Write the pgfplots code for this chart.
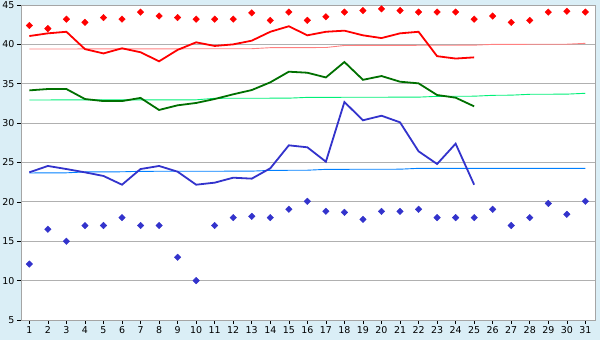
\documentclass[border=0pt]{standalone}
\usepackage{pgfplots}
\pgfplotsset{compat=1.18}
\usepackage{fontspec}
\setmainfont{DejaVu Sans}
\definecolor{bgblue}{RGB}{218,238,246}
\definecolor{gridgray}{RGB}{176,176,176}
\definecolor{framegray}{RGB}{165,165,165}
\definecolor{redline}{RGB}{255,0,0}
\definecolor{salmon}{RGB}{255,128,128}
\definecolor{dgreen}{RGB}{0,112,0}
\definecolor{lgreen}{RGB}{0,240,120}
\definecolor{blueline}{RGB}{51,51,204}
\definecolor{lblue}{RGB}{0,128,255}
\begin{document}
\begin{tikzpicture}
\fill[bgblue] (0,0) rectangle (600bp,340bp);
\useasboundingbox (0,0) rectangle (600bp,340bp);
\begin{axis}[
  at={(21bp,20bp)}, anchor=south west,
  scale only axis, width=574bp, height=315bp,
  xmin=0.55, xmax=31.52, ymin=5, ymax=45,
  xtick={1,...,31}, ytick={5,10,...,45},
  axis background/.style={fill=white},
  axis line style={framegray},
  ymajorgrids, grid style={gridgray, line width=0.8bp},
  tick align=outside, major tick length=4bp,
  tick style={black, line width=0.6bp},
  xtick pos=bottom, ytick pos=left,
  tick label style={font=\fontsize{9.5}{11}\selectfont},
  /pgf/number format/assume math mode=true,
  xticklabel style={yshift=1bp},
  yticklabel style={xshift=1bp},
  clip=false,
]
% normals
\addplot[salmon, line width=0.9bp] coordinates {(1,39.41)(13,39.45)(14,39.58)(17,39.6)(18,39.86)(25,39.9)(26,40.0)(30,40.02)(31,40.13)};
\addplot[lgreen, line width=0.9bp] coordinates {(1,32.94)(10,32.96)(11,33.15)(15,33.17)(16,33.27)(22,33.3)(23,33.4)(25,33.42)(26,33.53)(27,33.55)(28,33.66)(30,33.68)(31,33.79)};
\addplot[lblue, line width=0.9bp] coordinates {(1,23.67)(3,23.69)(4,23.8)(6,23.82)(7,23.88)(13,23.9)(14,24.0)(16,24.02)(17,24.13)(21,24.15)(22,24.26)(31,24.26)};
% red max
\addplot[redline, line width=1.8bp] coordinates {
(1,41.06)(2,41.4)(3,41.6)(4,39.4)(5,38.85)(6,39.5)(7,39.0)(8,37.85)(9,39.3)(10,40.26)
(11,39.8)(12,40.0)(13,40.47)(14,41.6)(15,42.3)(16,41.15)(17,41.6)(18,41.74)(19,41.15)(20,40.8)
(21,41.4)(22,41.6)(23,38.5)(24,38.2)(25,38.35)};
% green
\addplot[dgreen, line width=1.8bp] coordinates {
(1,34.16)(2,34.33)(3,34.33)(4,33.06)(5,32.8)(6,32.8)(7,33.2)(8,31.67)(9,32.26)(10,32.56)
(11,33.06)(12,33.66)(13,34.2)(14,35.18)(15,36.53)(16,36.4)(17,35.8)(18,37.76)(19,35.5)(20,35.98)
(21,35.26)(22,35.05)(23,33.57)(24,33.23)(25,32.13)};
% blue
\addplot[blueline, line width=1.8bp] coordinates {
(1,23.75)(2,24.56)(3,24.17)(4,23.75)(5,23.29)(6,22.18)(7,24.17)(8,24.56)(9,23.83)(10,22.18)
(11,22.44)(12,23.07)(13,22.95)(14,24.26)(15,27.18)(16,26.93)(17,25.1)(18,32.68)(19,30.36)(20,30.94)
(21,30.1)(22,26.42)(23,24.81)(24,27.39)(25,22.18)};
% red markers
\addplot[only marks, mark=square*, mark size=2.3bp, redline, mark options={fill=redline, rotate=45}] coordinates {
(1,42.4)(2,42.0)(3,43.2)(4,42.8)(5,43.4)(6,43.2)(7,44.1)(8,43.6)(9,43.4)(10,43.2)
(11,43.2)(12,43.2)(13,44.0)(14,43.05)(15,44.1)(16,43.05)(17,43.5)(18,44.1)(19,44.3)(20,44.5)
(21,44.3)(22,44.1)(23,44.1)(24,44.1)(25,43.2)(26,43.6)(27,42.8)(28,43.05)(29,44.1)(30,44.2)(31,44.1)};
% blue markers
\addplot[only marks, mark=square*, mark size=2.3bp, blueline, mark options={fill=blueline, rotate=45}] coordinates {
(1,12.1)(2,16.52)(3,15.0)(4,16.98)(5,17.0)(6,18.0)(7,17.0)(8,17.0)(9,12.96)(10,10.0)
(11,17.0)(12,18.0)(13,18.17)(14,18.0)(15,19.06)(16,20.07)(17,18.8)(18,18.67)(19,17.78)(20,18.8)
(21,18.8)(22,19.06)(23,18.0)(24,18.0)(25,18.0)(26,19.06)(27,17.0)(28,18.0)(29,19.8)(30,18.42)(31,20.07)};
\end{axis}
\end{tikzpicture}
\end{document}
